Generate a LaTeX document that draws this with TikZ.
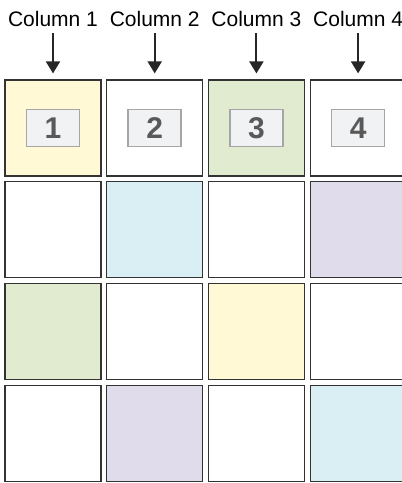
\documentclass[tikz,border=0pt]{standalone}
\usepackage{fontspec}
\setmainfont{Liberation Sans}
\usetikzlibrary{arrows.meta, positioning}
\definecolor{cYellow}{RGB}{255,249,214}
\definecolor{cGreen}{RGB}{224,235,207}
\definecolor{cBlue}{RGB}{218,239,244}
\definecolor{cPurple}{RGB}{225,220,235}
\definecolor{cBox}{RGB}{241,242,244}
\tikzset{
	cell/.style    ={rectangle, draw=black!80, line width=1.2pt, minimum size=96pt, inner sep=0pt},
	numbox/.style  ={rectangle, draw=black!35, line width=1.5pt, fill=cBox, minimum width=53pt, minimum height=37pt, inner sep=0pt, font=\fontsize{30}{30}\selectfont\bfseries, text=black!65},
	collabel/.style={inner sep=0pt, anchor=base, font=\fontsize{21}{21}\selectfont},
	colarrow/.style={-{Triangle[length=12pt, width=14pt]}, line width=2pt, black!85, shorten <=7pt, shorten >=6pt},
}
\begin{document}
\begin{tikzpicture}[x=1pt, y=-1pt]
	\useasboundingbox (0,0) rectangle (402,483);
	% grid of cells, row by row
	\foreach \r/\c/\fillcol in {1/1/cYellow, 1/2/white, 1/3/cGreen, 1/4/white,
		2/1/white, 2/2/cBlue, 2/3/white, 2/4/cPurple,
		3/1/cGreen, 3/2/white, 3/3/cYellow, 3/4/white,
		4/1/white, 4/2/cPurple, 4/3/white, 4/4/cBlue}
		\node[cell, fill=\fillcol] (cell-\r-\c) at ({53+101.7*(\c-1)}, {128+101.7*(\r-1)}) {};
	% column headers
	\foreach \c in {1,...,4} {
		\node[collabel] (lab\c) at ({53+101.7*(\c-1)}, 26) {Column \c};
		\draw[colarrow] (lab\c) -- (cell-1-\c);
		\node[numbox] (num\c) at (cell-1-\c) {\c};
	}
\end{tikzpicture}
\end{document}
